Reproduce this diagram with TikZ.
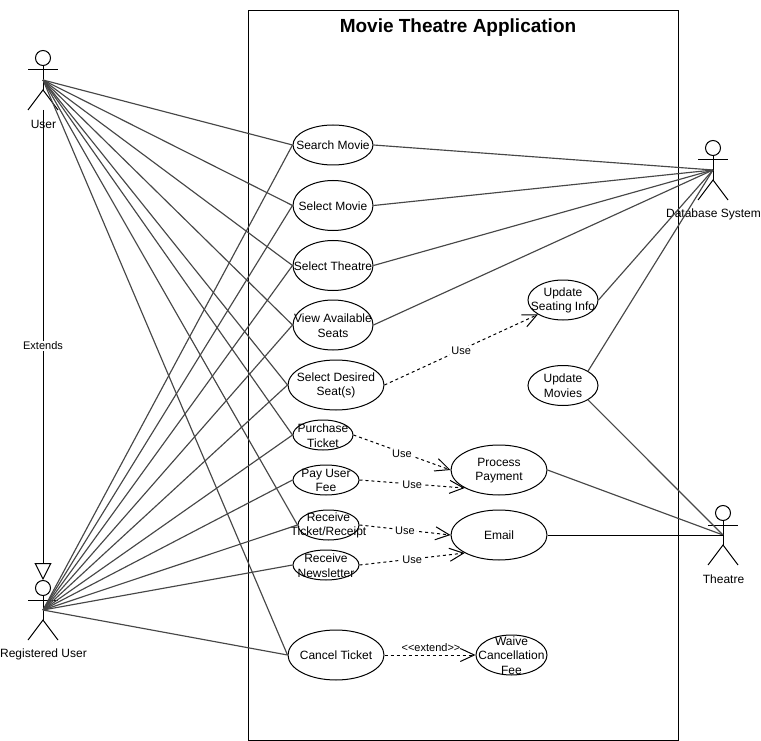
\documentclass[tikz,border=0pt]{standalone}
\usepackage{fontspec}
\setmainfont{Liberation Sans}
\usetikzlibrary{shapes.geometric,arrows.meta}

\tikzset{
  every label/.style={align=center,inner sep=0pt,yshift=-0.5pt,font=\fontsize{12}{14.7}\selectfont},
  usecase/.style={ellipse,draw,fill=white,inner sep=0pt},
  assoc/.style={draw=black!72,line width=1.15pt},
  uses/.style={draw,line width=1pt,dashed,dash pattern=on 3pt off 3pt,-{Straight Barb[length=14pt,width=13pt,line width=1pt]}},
  edgetext/.style={fill=white,inner sep=1pt,yshift=-1pt,font=\fontsize{11}{13}\selectfont},
  actor/.pic={
    \coordinate (-c) at (0,0);
    \coordinate (-top) at (0,-30);
    \coordinate (-bottom) at (0,30);
    \draw[line width=1pt] (0,-22) circle (7.5pt);
    \draw[line width=1pt] (0,-14.5) -- (0,10);
    \draw[line width=1pt] (-15,-10) -- (15,-10);
    \draw[line width=1pt] (-15,30) -- (0,10) -- (15,30);
    \node[font=\fontsize{12}{14.4}\selectfont] (-name) at (0.5,44.5) {\tikzpictext};
  }
}

\begin{document}
\begin{tikzpicture}[x=1pt,y=-1pt,line width=1pt]
  \useasboundingbox (0,0) rectangle (761,741);

  \draw (248.5,11) rectangle (678.5,740);
  \node[font=\fontsize{19}{23}\selectfont\bfseries] (title) at (458,27.5) {Movie Theatre Application};

  % actors
  \pic[pic text=User] (user) at (43,80) {actor};
  \pic[pic text=Registered User] (reg) at (43,610) {actor};
  \pic[pic text=Database System] (db) at (713,170) {actor};
  \pic[pic text=Theatre] (theatre) at (723,535) {actor};

  % use cases
  \node[usecase,minimum width=80pt,minimum height=40pt,label={center:Search Movie}] (search) at (333,145) {};
  \node[usecase,minimum width=80pt,minimum height=50pt,label={center:Select Movie}] (movie) at (333,205.5) {};
  \node[usecase,minimum width=80pt,minimum height=50pt,label={center:Select Theatre}] (cinema) at (333,265.5) {};
  \node[usecase,minimum width=80pt,minimum height=50pt,label={center:View Available\\Seats}] (view) at (333,325) {};
  \node[usecase,minimum width=96pt,minimum height=50pt,label={center:Select Desired\\Seat(s)}] (desired) at (336,385) {};
  \node[usecase,minimum width=60pt,minimum height=30pt,label={center:Purchase\\Ticket}] (purchase) at (323,435) {};
  \node[usecase,minimum width=66pt,minimum height=30pt,label={center:Pay User\\Fee}] (pay) at (326,480) {};
  \node[usecase,minimum width=61pt,minimum height=30pt,label={center:Receive\\Ticket/Receipt}] (receipt) at (328.5,525) {};
  \node[usecase,minimum width=66pt,minimum height=30pt,label={center:Receive\\Newsletter}] (news) at (326,565) {};
  \node[usecase,minimum width=96pt,minimum height=50pt,label={center:Cancel Ticket}] (cancel) at (336,655) {};
  \node[usecase,minimum width=70pt,minimum height=40pt,label={center:Update\\Seating Info}] (seating) at (563,300) {};
  \node[usecase,minimum width=70pt,minimum height=40pt,label={center:Update\\Movies}] (updmovies) at (563,385.5) {};
  \node[usecase,minimum width=96pt,minimum height=50pt,label={center:Process\\Payment}] (payment) at (499,470) {};
  \node[usecase,minimum width=96pt,minimum height=50pt,label={center:Email}] (email) at (499,535) {};
  \node[usecase,minimum width=71pt,minimum height=40pt,label={center:Waive\\Cancellation\\Fee}] (waive) at (511.5,655) {};

  % associations
  \foreach \uc in {search,movie,cinema,view,desired,purchase,receipt,cancel}
    \draw[assoc] (user-c) -- (\uc.west);
  \foreach \uc in {search,movie,cinema,view,desired,purchase,pay,receipt,news,cancel}
    \draw[assoc] (reg-c) -- (\uc.west);
  \foreach \uc in {search,movie,cinema,view,seating}
    \draw[assoc] (\uc.east) -- (db-c);
  \draw[assoc] (updmovies.north east) -- (db-c);
  \draw[assoc] (updmovies.south east) -- (theatre-c);
  \draw[assoc] (payment.east) -- (theatre-c);
  \draw[line width=1pt] (email.east) -- (theatre-c);

  % extends
  \draw[line width=1pt,-{Triangle[open,length=17pt,width=17pt,line width=1pt]}] (user-bottom) -- node[edgetext] (extendstext) {Extends} (reg-top);

  % includes
  \draw[uses] (desired.east) -- node[edgetext] (use1) {Use} (seating.south west);
  \draw[uses] (purchase.east) -- node[edgetext] (use2) {Use} (payment.west);
  \draw[uses] (pay.east) -- node[edgetext] (use3) {Use} (payment.south west);
  \draw[uses] (receipt.east) -- node[edgetext] (use4) {Use} (email.west);
  \draw[uses] (news.east) -- node[edgetext] (use5) {Use} (email.south west);
  \draw[uses] (cancel.east) -- node[above=2pt,inner sep=1pt,xshift=1pt,font=\fontsize{11}{13}\selectfont] (extendlabel) {<{}<extend>{}>} (waive.west);
\end{tikzpicture}
\end{document}
